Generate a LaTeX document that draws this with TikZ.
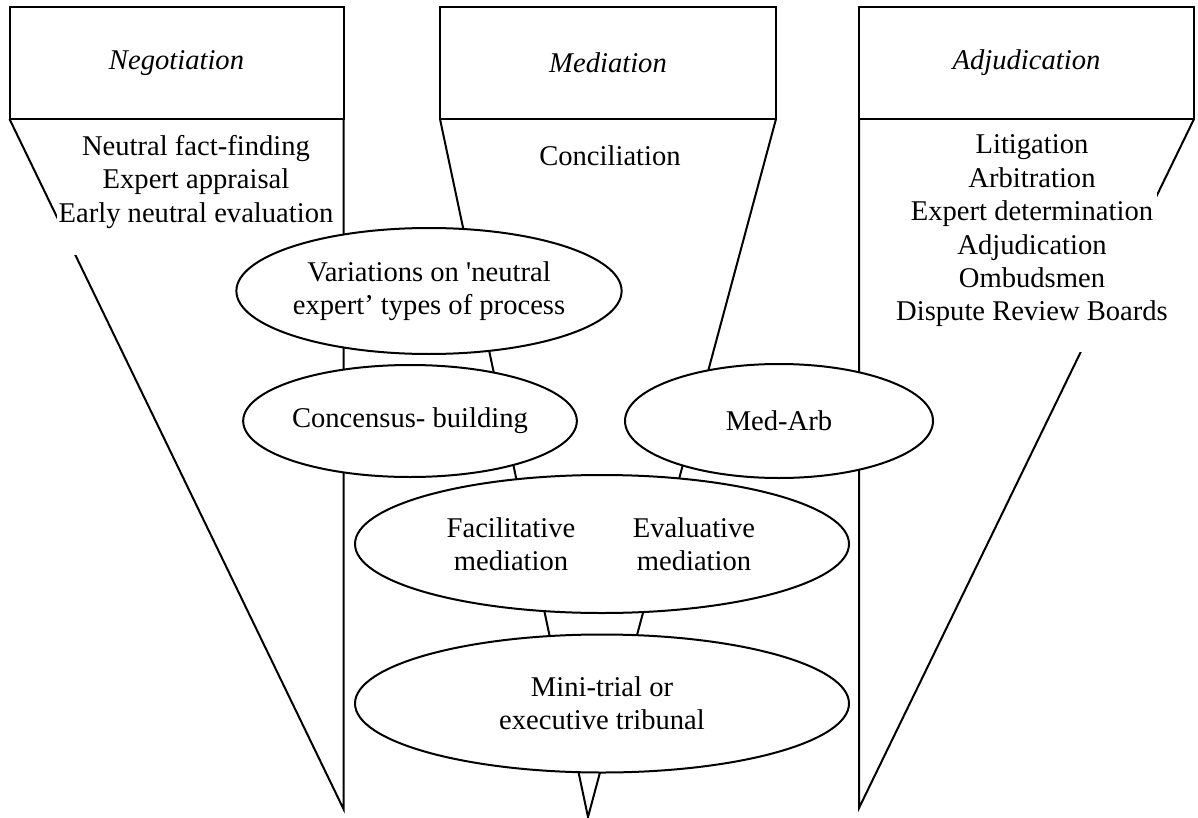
\documentclass[tikz,border=0pt]{standalone}
\usepackage{fontspec}
\setmainfont{Liberation Serif}[Ligatures=TeXOff]
\usetikzlibrary{shapes.geometric}
\begin{document}
\begin{tikzpicture}[x=0.5pt,y=-0.5pt,
  lw/.style={line width=1pt},
  txt/.style={font=\fontsize{14.3pt}{16.7pt}\selectfont, align=center, inner sep=0pt},
  title/.style={draw, lw, fill=white, outer sep=0pt, minimum height=56pt, inner sep=0pt,
    font=\fontsize{14.3pt}{16.7pt}\selectfont\itshape},
  oval/.style={ellipse, draw, lw, fill=white, inner sep=0pt, outer sep=0pt,
    font=\fontsize{14.3pt}{16.7pt}\selectfont, align=center},
  funnel/.style={lw, line join=miter}]
\useasboundingbox (0,0) rectangle (1198,818);
% title boxes
\node[title, minimum width=167pt] (neg) at (176.5,63) {Negotiation};
\node[title, minimum width=168pt] (med) at (608,63) {Mediation};
\node[title, minimum width=167.5pt] (adj) at (1026.5,63) {Adjudication};
% funnel tips
\coordinate (ltip) at (343.5,809);
\coordinate (mtip) at (588,817);
\coordinate (rtip) at (859,808);
% funnels
\draw[funnel] (neg.south west) -- (ltip) -- (neg.south east);
\draw[funnel] (med.south west) -- (mtip) -- (med.south east);
\draw[funnel] (adj.south east) -- (rtip) -- (adj.south west);
% white backgrounds of text blocks
\fill[white] (57,125) rectangle (339,255);
\fill[white] (864,125) rectangle (1157,352);
% text blocks
\node[txt] (negtxt) at (196,182) {Neutral fact-finding\\Expert appraisal\\Early neutral evaluation};
\node[txt] (medtxt) at (610,156) {Conciliation};
\node[txt] (adjtxt) at (1032,231) {Litigation\\Arbitration\\Expert determination\\Adjudication\\Ombudsmen\\Dispute Review Boards};
% ellipses
\node[oval, minimum width=174pt, minimum height=63pt] (var) at (429,291) {Variations on 'neutral\\expert’ types of process};
\node[oval, minimum width=155pt, minimum height=56pt] (con) at (410,421) {Concensus- building};
\node[oval, minimum width=154pt, minimum height=57pt] (ma) at (779,421) {Med-Arb};
\node[oval, minimum width=247pt, minimum height=69pt] (fe) at (602,544) {};
\node[txt] (fac) at (511,544) {Facilitative\\mediation};
\node[txt] (eva) at (694,544) {Evaluative\\mediation};
\node[oval, minimum width=247pt, minimum height=69pt] (mt) at (602,703.5) {Mini-trial or\\executive tribunal};
\end{tikzpicture}
\end{document}
